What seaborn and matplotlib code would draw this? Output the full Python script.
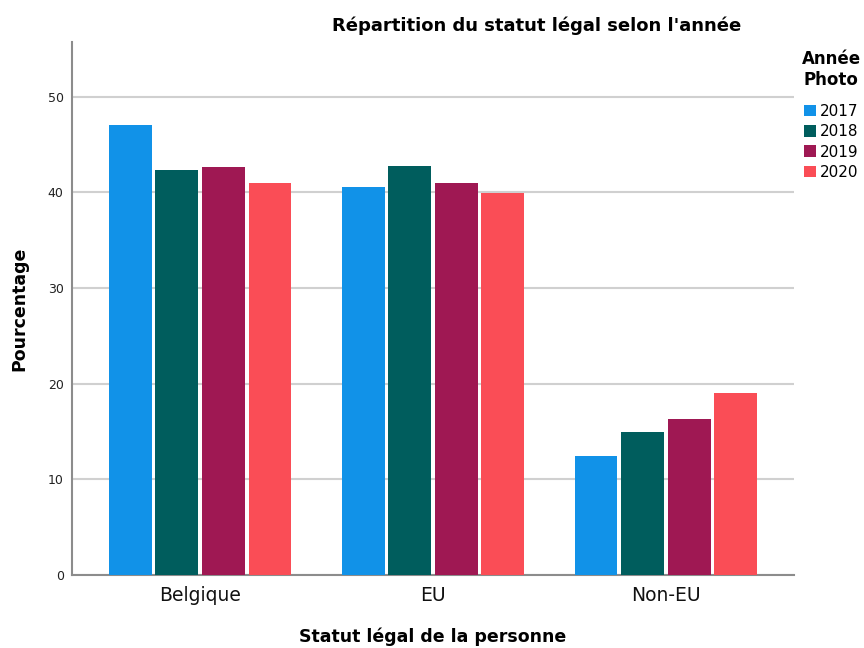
import matplotlib
matplotlib.use("Agg")
import matplotlib.pyplot as plt
import seaborn as sns
import pandas as pd

categories = ["Belgique", "EU", "Non-EU"]
years = ["2017", "2018", "2019", "2020"]
v2017 = [47.0, 40.6, 12.4]
v2018 = [42.3, 42.8, 14.9]
v2019 = [42.6, 41.0, 16.3]
v2020 = [41.0, 39.9, 19.0]
colors = ["#1192E8", "#005D5D", "#9F1853", "#FA4D56"]

rows = []
for y, vals in zip(years, [v2017, v2018, v2019, v2020]):
    for c, v in zip(categories, vals):
        rows.append({"Statut": c, "Année": y, "Pourcentage": v})
df = pd.DataFrame(rows)

sns.set_theme(style="white")
plt.rcParams['font.family'] = ['DejaVu Sans']
plt.rcParams['text.color'] = 'black'
plt.rcParams['axes.labelcolor'] = 'black'

fig = plt.figure(figsize=(8.64, 6.48), dpi=100)
ax = fig.add_axes([0.0833, 0.1127, 0.919 - 0.0833, 0.935 - 0.1127])

sns.barplot(data=df, x="Statut", y="Pourcentage", hue="Année",
            order=categories, hue_order=years, palette=colors, saturation=1,
            width=0.8, gap=0.08, ax=ax, edgecolor="none", zorder=3)

ax.set_ylim(0, 55.7)
ax.set_xlim(-0.55, 2.55)
ax.set_yticks([0, 10, 20, 30, 40, 50])
ax.yaxis.grid(True, color="#d0d0d0", linewidth=1.5, zorder=0)
ax.set_axisbelow(True)
for s in ["top", "right"]:
    ax.spines[s].set_visible(False)
for s in ["left", "bottom"]:
    ax.spines[s].set_color("#8c8c8c")
    ax.spines[s].set_linewidth(1.5)
ax.tick_params(axis="y", length=0, labelsize=9, pad=6, labelcolor="#222222")
ax.tick_params(axis="x", length=0, labelsize=13.5, pad=8, labelcolor="#111111")

ax.set_xlabel("Statut légal de la personne", fontsize=12.5, fontweight="bold", labelpad=16)
ax.set_ylabel("Pourcentage", fontsize=12.5, fontweight="bold", labelpad=14)

fig.text(0.621, 0.96, "Répartition du statut légal selon l'année",
         ha="center", va="center", fontsize=13, fontweight="bold")

handles, labels = ax.get_legend_handles_labels()
leg = ax.legend(handles, labels, title="Année\nPhoto", loc="upper left",
                bbox_to_anchor=(1.0, 1.0), frameon=False,
                fontsize=11, title_fontsize=12, handlelength=0.8,
                handleheight=0.8, handletextpad=0.3, labelspacing=0.35,
                borderaxespad=0.1)
leg.get_title().set_fontweight("bold")
leg.get_title().set_multialignment("center")
leg._legend_box.align = "center"
leg._legend_box.sep = 11

fig.savefig("out.png", dpi=100)
